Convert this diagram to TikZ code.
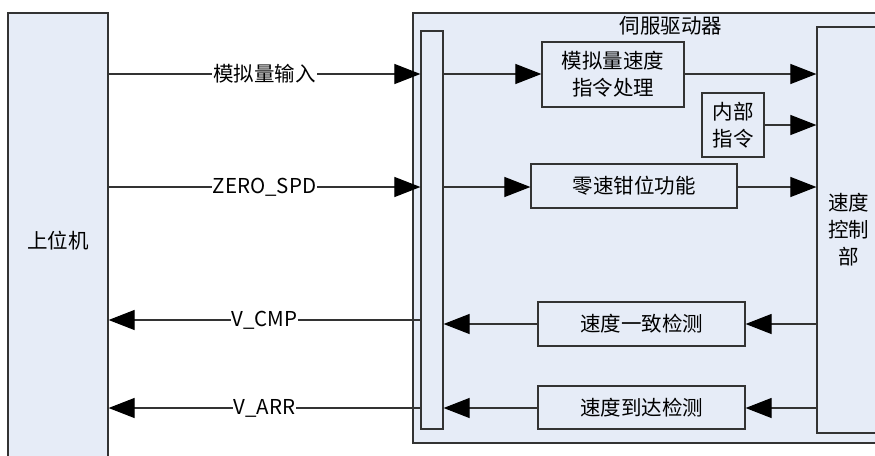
\documentclass[tikz,border=0pt]{standalone}
\usepackage{fontspec}
\setmainfont{Noto Sans CJK SC}
\usetikzlibrary{arrows.meta}
\definecolor{boxfill}{HTML}{E6ECF7}
\definecolor{linec}{HTML}{333333}
\begin{document}
\begin{tikzpicture}[x=1pt,y=-1pt,
  blk/.style={draw=linec, line width=1.2pt, fill=boxfill, inner sep=0pt},
  fbox/.style={draw=linec, line width=1.2pt, fill=boxfill, align=center,
    font=\fontsize{20.5}{27}\selectfont, inner sep=0pt},
  conn/.style={draw=linec, line width=1.1pt, -{Triangle[length=26pt,width=20pt,color=black]}},
  lbl/.style={fill=white, inner sep=1pt, font=\fontsize{20.5}{24}\selectfont}
]
\clip (0,0) rectangle (875,455);
\fill[white] (0,0) rectangle (875,455);

% host
\node[fbox, minimum width=100pt, minimum height=456pt] (host) at (58,241) {上位机};
% servo drive frame
\node[blk, minimum width=480pt, minimum height=430pt] (servo) at (653,228) {};
\node[font=\fontsize{20.5}{24}\selectfont, inner sep=0pt] (title) at (671,26) {伺服驱动器};
% interface bar
\node[blk, minimum width=22pt, minimum height=398pt] (bar) at (432,230) {};
% inner blocks
\node[fbox, minimum width=142pt, minimum height=65pt] (ana) at (613,74.5) {模拟量速度\\指令处理};
\node[fbox, minimum width=62pt, minimum height=64pt] (intc) at (733,125) {内部\\指令};
\node[fbox, minimum width=206pt, minimum height=44pt] (zero) at (634,186) {零速钳位功能};
\node[fbox, minimum width=63pt, minimum height=406pt] (ctrl) at (848.5,230) {速度\\控制\\部};
\node[fbox, minimum width=207pt, minimum height=44pt] (cmp) at (641.5,324) {速度一致检测};
\node[fbox, minimum width=207pt, minimum height=43pt] (arr) at (641.5,407.5) {速度到达检测};

% host -> bar
\draw[conn] (host.east |- 0,74) -- node[lbl] {模拟量输入} (bar.west |- 0,74);
\draw[conn] (host.east |- 0,187) -- node[lbl] {ZERO\_SPD} (bar.west |- 0,187);
% bar -> host
\draw[conn] (bar.west |- 0,320) -- node[lbl] {V\_CMP} (host.east |- 0,320);
\draw[conn] (bar.west |- 0,408) -- node[lbl] {V\_ARR} (host.east |- 0,408);

% inside drive
\draw[conn] (bar.east |- 0,74) -- (ana.west |- 0,74);
\draw[conn] (ana.east |- 0,74) -- (ctrl.west |- 0,74);
\draw[conn] (intc.east) -- (ctrl.west |- intc.east);
\draw[conn] (bar.east |- 0,187) -- (zero.west |- 0,187);
\draw[conn] (zero.east |- 0,187) -- (ctrl.west |- 0,187);
\draw[conn] (ctrl.west |- cmp.east) -- (cmp.east);
\draw[conn] (cmp.west) -- (bar.east |- cmp.west);
\draw[conn] (ctrl.west |- 0,408) -- (arr.east |- 0,408);
\draw[conn] (arr.west |- 0,408) -- (bar.east |- 0,408);
\end{tikzpicture}
\end{document}
